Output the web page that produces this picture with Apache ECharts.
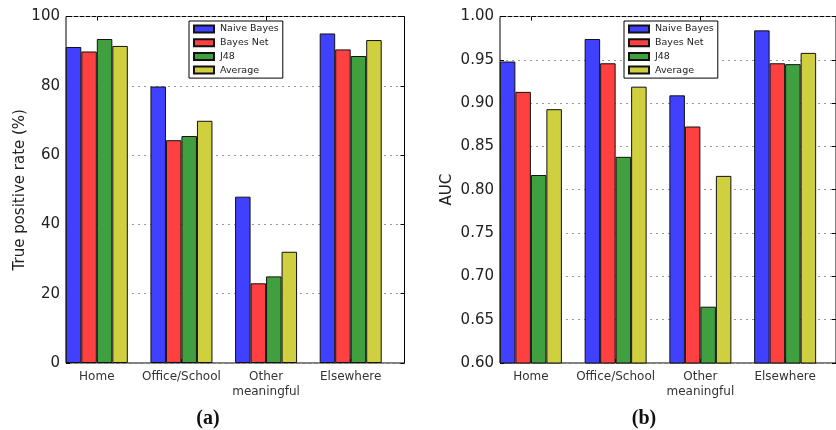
<!DOCTYPE html>
<html>
<head>
<meta charset="utf-8">
<script src="https://cdn.jsdelivr.net/npm/echarts@6/dist/echarts.min.js"></script>
<style>
  html, body { margin: 0; padding: 0; background: #fff; }
  #chart { width: 836px; height: 430px; }
</style>
</head>
<body>
<div id="chart"></div>
<script>
// categories and series
const categories = ['Home', 'Office/School', 'Other\nmeaningful', 'Elsewhere'];
const seriesNames = ['Naive Bayes', 'Bayes Net', 'J48', 'Average'];
const seriesColors = ['#4040ff', '#ff4040', '#40a040', '#cfcf40'];

// (a) true positive rate (%)
const tprNaiveBayes = [91.2, 79.8, 48.0, 95.1];
const tprBayesNet = [89.9, 64.3, 23.0, 90.5];
const tprJ48 = [93.5, 65.5, 25.0, 88.6];
const tprAverage = [91.5, 69.9, 32.1, 93.2];

// (b) AUC
const aucNaiveBayes = [0.948, 0.974, 0.909, 0.984];
const aucBayesNet = [0.913, 0.946, 0.873, 0.946];
const aucJ48 = [0.817, 0.838, 0.665, 0.945];
const aucAverage = [0.893, 0.919, 0.816, 0.958];

// y axis ranges
const tprAxis = { min: 0, max: 100, interval: 20 };
const aucAxis = { min: 0.6, max: 1.0, interval: 0.05 };

const tprData = [tprNaiveBayes, tprBayesNet, tprJ48, tprAverage];
const aucData = [aucNaiveBayes, aucBayesNet, aucJ48, aucAverage];

const chart = echarts.init(document.getElementById('chart'));

const tickFont = { fontFamily: 'DejaVu Sans', fontSize: 15, color: '#222' };
const dotted = { color: '#999', width: 1, type: [2, 4] };

// frame grid (box, y ticks, gridlines) + bar grid (shifted so groups start at the left edge)
function frameAxes(gi, range, fmt, name, nameGap) {
  return {
    x: { gridIndex: gi, type: 'category', data: categories, show: false },
    y: [
      {
        gridIndex: gi, type: 'value', min: range.min, max: range.max, interval: range.interval,
        name: name, nameLocation: 'middle', nameRotate: 90, nameGap: nameGap,
        nameTextStyle: { fontFamily: 'DejaVu Sans', fontSize: 15, color: '#222' },
        axisLine: { show: false },
        axisTick: { show: true, inside: true, length: 4, lineStyle: { color: '#000' } },
        axisLabel: Object.assign({ margin: 6, formatter: fmt }, tickFont),
        splitLine: { show: true, lineStyle: dotted }
      },
      {
        gridIndex: gi, type: 'value', position: 'right', min: range.min, max: range.max, interval: range.interval,
        axisLine: { show: false },
        axisTick: { show: true, inside: true, length: 4, lineStyle: { color: '#000' } },
        axisLabel: { show: false },
        splitLine: { show: false }
      }
    ]
  };
}

function barAxes(gi, range) {
  return {
    x: [
      {
        gridIndex: gi, type: 'category', data: categories, position: 'bottom',
        axisLine: { show: false },
        axisTick: { show: true, inside: true, alignWithLabel: true, length: 4, lineStyle: { color: '#000' } },
        axisLabel: { fontFamily: 'DejaVu Sans', fontSize: 12, color: '#333', margin: 6, lineHeight: 15, interval: 0 }
      },
      {
        gridIndex: gi, type: 'category', data: categories, position: 'top',
        axisLine: { show: false },
        axisTick: { show: true, inside: true, alignWithLabel: true, length: 4, lineStyle: { color: '#000' } },
        axisLabel: { show: false }
      }
    ],
    y: { gridIndex: gi, type: 'value', min: range.min, max: range.max, interval: range.interval, show: false }
  };
}

const fa = frameAxes(0, tprAxis, v => String(Math.round(v)), 'True positive rate (%)', 36);
const ba = barAxes(1, tprAxis);
const fb = frameAxes(2, aucAxis, v => v.toFixed(2), 'AUC', 45);
const bb = barAxes(3, aucAxis);

function barSeries(data, xi, yi) {
  return seriesNames.map((n, i) => ({
    name: n,
    type: 'bar',
    xAxisIndex: xi,
    yAxisIndex: yi,
    data: data[i],
    barWidth: 15.5,
    barGap: '0%',
    itemStyle: { color: seriesColors[i], borderColor: '#111', borderWidth: 1 },
    emphasis: { disabled: true }
  }));
}

function legendAt(left) {
  return {
    data: seriesNames,
    orient: 'vertical',
    left: left,
    top: 21,
    icon: 'rect',
    itemWidth: 20,
    itemHeight: 7,
    itemGap: 3.7,
    padding: [3, 4, 3, 4],
    backgroundColor: '#fff',
    borderColor: '#000',
    borderWidth: 1,
    borderRadius: 0,
    selectedMode: false,
    textStyle: { fontFamily: 'DejaVu Sans', fontSize: 9.5, color: '#222', lineHeight: 10, padding: [0, 0, 0, 1] }
  };
}

const option = {
  animation: false,
  backgroundColor: '#fff',
  title: [
    { text: '(a)', left: 203, top: 404, textAlign: 'center',
      textStyle: { fontFamily: 'Liberation Serif', fontWeight: 'bold', fontSize: 20, color: '#111' } },
    { text: '(b)', left: 639, top: 404, textAlign: 'center',
      textStyle: { fontFamily: 'Liberation Serif', fontWeight: 'bold', fontSize: 20, color: '#111' } }
  ],
  legend: [legendAt(189), legendAt(624)],
  grid: [
    { left: 66, top: 16.5, width: 338.5, height: 346.5, show: true, borderColor: '#000', borderWidth: 1, backgroundColor: 'transparent' },
    { left: 54.5, top: 16.5, width: 338.5, height: 346.5 },
    { left: 500, top: 16.5, width: 339, height: 346.5, show: true, borderColor: '#000', borderWidth: 1, backgroundColor: 'transparent' },
    { left: 488.5, top: 16.5, width: 339, height: 346.5 }
  ],
  xAxis: [fa.x, ba.x[0], ba.x[1], fb.x, bb.x[0], bb.x[1]],
  yAxis: [fa.y[0], fa.y[1], ba.y, fb.y[0], fb.y[1], bb.y],
  series: barSeries(tprData, 1, 2).concat(barSeries(aucData, 4, 5))
};

chart.setOption(option);
</script>
</body>
</html>
